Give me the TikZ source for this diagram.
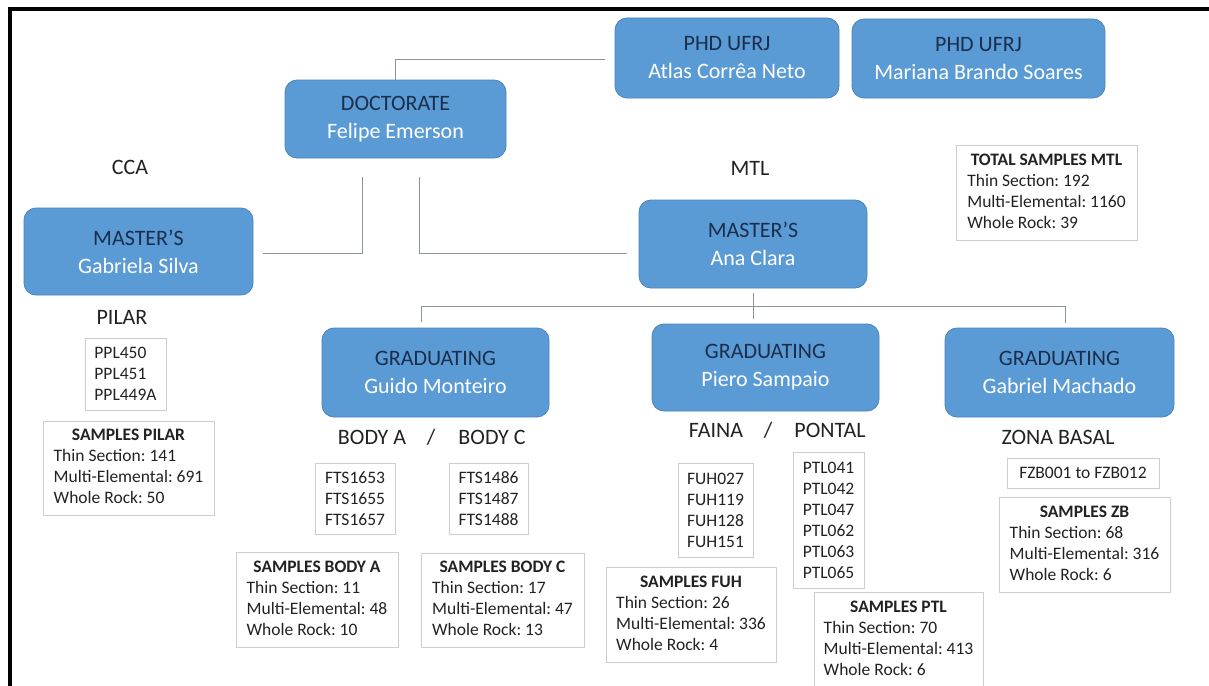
\documentclass[tikz,border=0pt]{standalone}
\usepackage{fontspec}
\setmainfont{Carlito}
\frenchspacing
\definecolor{boxblue}{HTML}{5B9BD5}
\definecolor{boxedge}{HTML}{4A84BE}
\definecolor{navy}{HTML}{1B2E4B}
\definecolor{conn}{HTML}{8A949E}
\definecolor{grayedge}{HTML}{C9CED3}
\definecolor{txt}{HTML}{222222}
\newcommand{\who}[2]{\textcolor{navy}{#1}\\\textcolor{white}{#2}}
\newcommand{\samp}[4]{\begin{tabular}{@{}l@{}}\multicolumn{1}{@{}c@{}}{\textbf{#1}}\\#2\\#3\\#4\end{tabular}}
\tikzset{
  person/.style={rounded corners=12pt, fill=boxblue, draw=boxedge, line width=0.8pt,
    align=center, font=\fontsize{22}{28}\selectfont, inner sep=0pt},
  lbl/.style={font=\fontsize{22}{26}\selectfont, text=txt, inner sep=0pt,
    text height=14.2pt, text depth=0pt},
  listbox/.style={draw=grayedge, line width=1pt, fill=white,
    font=\fontsize{17.5}{21}\selectfont, text=txt, inner sep=0pt, align=left},
  link/.style={draw=conn, line width=1pt},
  frame/.style={draw=black, line width=4.5pt},
}
\begin{document}
\begin{tikzpicture}[x=1pt,y=-1pt]
\useasboundingbox (0,0) rectangle (1209,685);
\clip (0,0) rectangle (1209,685);
\fill[white] (0,0) rectangle (1209,685);
% frame
\coordinate (fb) at (10,690);
\coordinate (fc) at (10,9);
\coordinate (fr) at (1215,9);
\draw[frame] (fb) -- (fc) -- (fr);

% people
\node[person, minimum width=224pt, minimum height=80pt] (atlas) at (727,58) {\who{PHD UFRJ}{Atlas Corrêa Neto}};
\node[person, minimum width=253pt, minimum height=79pt] (mariana) at (978.5,58.5) {\who{PHD UFRJ}{Mariana Brando Soares}};
\node[person, minimum width=221pt, minimum height=78pt] (doc) at (395.5,119) {\who{DOCTORATE}{Felipe Emerson}};
\node[person, minimum width=229pt, minimum height=87pt] (gab) at (138.5,251.5) {\who{MASTER’S}{Gabriela Silva}};
\node[person, minimum width=228pt, minimum height=88pt] (ana) at (753,244) {\who{MASTER’S}{Ana Clara}};
\node[person, minimum width=227pt, minimum height=89pt] (guido) at (435.5,372.5) {\who{GRADUATING}{Guido Monteiro}};
\node[person, minimum width=227pt, minimum height=87pt] (piero) at (765.5,367.5) {\who{GRADUATING}{Piero Sampaio}};
\node[person, minimum width=229pt, minimum height=89pt] (gabriel) at (1059.5,372.5) {\who{GRADUATING}{Gabriel Machado}};

% labels
\node[lbl] (cca) at (130,167) {CCA};
\node[lbl] (mtl) at (750,168) {MTL};
\node[lbl] (pilar) at (122,317) {PILAR};
\node[lbl] (bodya) at (372,437) {BODY A};
\node[lbl] (sl1) at (431,437) {/};
\node[lbl] (bodyc) at (492,437) {BODY C};
\node[lbl] (faina) at (716,430) {FAINA};
\node[lbl] (sl2) at (768,430) {/};
\node[lbl] (pontal) at (830,430) {PONTAL};
\node[lbl] (zona) at (1058,437) {ZONA BASAL};

% sample lists
\node[listbox, minimum width=81pt, minimum height=72pt] (ppl) at (125.5,374) {PPL450\\PPL451\\PPL449A};
\node[listbox, minimum width=80pt, minimum height=71pt] (ftsa) at (355,498.5) {FTS1653\\FTS1655\\FTS1657};
\node[listbox, minimum width=79pt, minimum height=71pt] (ftsc) at (488.5,498.5) {FTS1486\\FTS1487\\FTS1488};
\node[listbox, minimum width=75pt, minimum height=94pt] (fuhl) at (715.5,510) {FUH027\\FUH119\\FUH128\\FUH151};
\node[listbox, minimum width=71pt, minimum height=136pt] (ptll) at (828.5,520) {PTL041\\PTL042\\PTL047\\PTL062\\PTL063\\PTL065};
\node[listbox, minimum width=152pt, minimum height=30pt] (fzb) at (1083,473) {FZB001 to FZB012};

% sample totals
\node[listbox, minimum width=181pt, minimum height=95pt] (total) at (1046.5,192.5) {\samp{TOTAL SAMPLES MTL}{Thin Section: 192}{Multi-Elemental: 1160}{Whole Rock: 39}};
\node[listbox, minimum width=171pt, minimum height=94pt] (spilar) at (128.5,468) {\samp{SAMPLES PILAR}{Thin Section: 141}{Multi-Elemental: 691}{Whole Rock: 50}};
\node[listbox, minimum width=162pt, minimum height=95pt] (sbodya) at (317,599.5) {\samp{SAMPLES BODY A}{Thin Section: 11}{Multi-Elemental: 48}{Whole Rock: 10}};
\node[listbox, minimum width=163pt, minimum height=94pt] (sbodyc) at (502.5,600) {\samp{SAMPLES BODY C}{Thin Section: 17}{Multi-Elemental: 47}{Whole Rock: 13}};
\node[listbox, minimum width=170pt, minimum height=95pt] (sfuh) at (691,614.5) {\samp{SAMPLES FUH}{Thin Section: 26}{Multi-Elemental: 336}{Whole Rock: 4}};
\node[listbox, minimum width=169pt, minimum height=96pt] (sptl) at (898.5,640) {\samp{SAMPLES PTL}{Thin Section: 70}{Multi-Elemental: 413}{Whole Rock: 6}};
\node[listbox, minimum width=171pt, minimum height=95pt] (szb) at (1084.5,544.5) {\samp{SAMPLES ZB}{Thin Section: 68}{Multi-Elemental: 316}{Whole Rock: 6}};

% connectors
\draw[link] ([shift={(-10,2)}]atlas.west) -| (doc.north);
\draw[link] ([shift={(-33.5,19)}]doc.south) |- ([shift={(10,1.5)}]gab.east);
\draw[link] ([shift={(23.5,19)}]doc.south) |- ([shift={(-12,9)}]ana.west);
\draw[link] ([shift={(0,5)}]ana.south) -- ([shift={(-12.5,-5)}]piero.north);
\draw[link] ([shift={(-14.5,-6)}]guido.north) -- ++(0,-15) -| ([shift={(5.5,-5)}]gabriel.north);
\end{tikzpicture}
\end{document}
